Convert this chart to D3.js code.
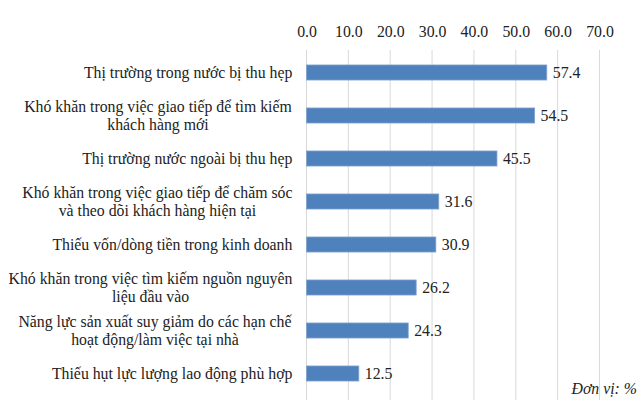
<!DOCTYPE html>
<html><head><meta charset="utf-8">
<script src="https://cdn.jsdelivr.net/npm/d3@7"></script>
</head><body style="margin:0">
<svg id="c" width="640" height="403" font-family="Liberation Serif, Tinos, Times New Roman, serif" font-size="15.8" style="display:block"></svg>
<script>
const categories = [
  ["Thị trường trong nước bị thu hẹp"],
  ["Khó khăn trong việc giao tiếp để tìm kiếm", "khách hàng mới"],
  ["Thị trường nước ngoài bị thu hẹp"],
  ["Khó khăn trong việc giao tiếp để chăm sóc", "và theo dõi khách hàng hiện tại"],
  ["Thiếu vốn/dòng tiền trong kinh doanh"],
  ["Khó khăn trong việc tìm kiếm nguồn nguyên", "liệu đầu vào"],
  ["Năng lực sản xuất suy giảm do các hạn chế", "hoạt động/làm việc tại nhà"],
  ["Thiếu hụt lực lượng lao động phù hợp"]
];
const values = [57.4, 54.5, 45.5, 31.6, 30.9, 26.2, 24.3, 12.5];
const tickValues = [0, 10, 20, 30, 40, 50, 60, 70];
const unitLabel = "Đơn vị: %";

const svg = d3.select("#c");
const x = d3.scaleLinear().domain([0, 70]).range([306.5, 599.5]);
const y = d3.scaleBand().domain(d3.range(categories.length)).range([51, 395]).paddingInner(0.65).paddingOuter(0.325);

svg.append("g").selectAll("line").data(tickValues).join("line")
  .attr("x1", d => x(d)).attr("x2", d => x(d))
  .attr("y1", 50).attr("y2", 400)
  .attr("stroke", "#d9d9d9").attr("stroke-width", 1);

const ax = d3.axisTop(x).tickValues(tickValues).tickFormat(d3.format(".1f")).tickSize(0).tickPadding(0);
const g = svg.append("g").attr("transform", "translate(0,37)").call(ax);
g.select(".domain").remove();
g.attr("font-family", null).attr("font-size", null);
g.selectAll("text").attr("fill", "#222");

svg.append("g").selectAll("rect").data(values).join("rect")
  .attr("x", x(0)).attr("y", (d, i) => y(i))
  .attr("width", d => x(d) - x(0)).attr("height", y.bandwidth())
  .attr("fill", "#4f81bd").attr("stroke", "#7fa3cf").attr("stroke-width", 0.8);

svg.append("g").selectAll("text").data(values).join("text")
  .attr("x", d => x(d) + 6).attr("y", (d, i) => y(i) + y.bandwidth() / 2)
  .attr("dy", "0.35em").attr("fill", "#222")
  .text(d => d.toFixed(1));

const lab = svg.append("g").selectAll("text").data(categories).join("text")
  .attr("fill", "#222")
  .attr("text-anchor", "middle")
  .attr("transform", (d, i) => `translate(0,${y(i) + y.bandwidth() / 2})`);
lab.each(function(lines) {
  const t = d3.select(this);
  const n = lines.length;
  lines.forEach((l, k) => {
    t.append("tspan").attr("x", 0).attr("y", (k - (n - 1) / 2) * 17.5).attr("dy", "0.35em").text(l);
  });
});
lab.each(function() {
  const bb = this.getBBox();
  const shift = 292.5 - (bb.x + bb.width);
  const tr = d3.select(this).attr("transform");
  d3.select(this).attr("transform", tr.replace("translate(0", `translate(${shift}`));
});

svg.append("text").attr("x", 637).attr("y", 394).attr("text-anchor", "end")
  .attr("font-style", "italic").attr("fill", "#222")
  .text(unitLabel);
</script>
</body></html>
